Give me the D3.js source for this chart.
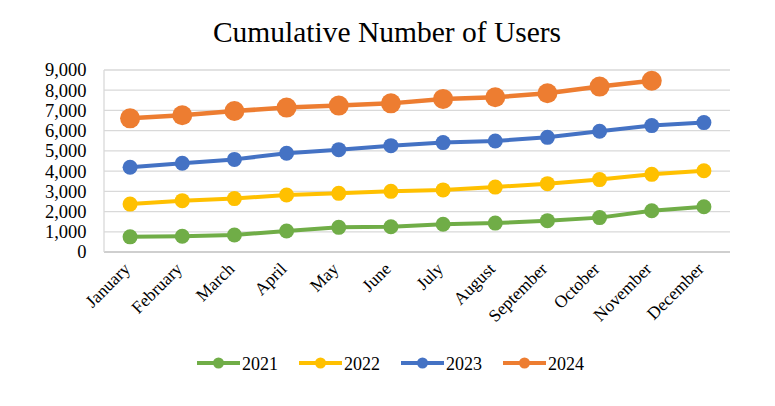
<!DOCTYPE html>
<html lang="en">
<head>
<meta charset="utf-8">
<title>Cumulative Number of Users</title>
<script src="https://cdn.jsdelivr.net/npm/d3@7"></script>
<style>
    body { margin: 0; background: #fff; }
</style>
</head>
<body>
<script>
var months = ["January", "February", "March", "April", "May", "June", "July",
              "August", "September", "October", "November", "December"];
var years = ["2021", "2022", "2023", "2024"];
var users2021 = [750, 780, 840, 1040, 1220, 1250, 1370, 1430, 1550, 1700, 2040, 2240];
var users2022 = [2370, 2540, 2640, 2820, 2900, 3000, 3070, 3210, 3380, 3580, 3840, 4020];
var users2023 = [4190, 4390, 4580, 4880, 5060, 5260, 5410, 5490, 5670, 5970, 6250, 6400];
var users2024 = [6610, 6760, 6970, 7140, 7240, 7350, 7570, 7650, 7850, 8180, 8470, null];
var yTicks = [0, 1000, 2000, 3000, 4000, 5000, 6000, 7000, 8000, 9000];

var w = 775, h = 406;
var serif = "Liberation Serif";
var colors = ["#70AD47", "#FFC000", "#4472C4", "#ED7D31"];
var radius = [7.5, 7.5, 7.5, 10];
var allSeries = [users2021, users2022, users2023, users2024];

var svg = d3.select("body").append("svg").attr("width", w).attr("height", h)
            .attr("font-family", serif);

var x = d3.scaleBand().domain(months).range([104, 730]);
var y = d3.scaleLinear().domain([0, 9000]).range([252, 70]);

// title
svg.append("text").attr("x", 387).attr("y", 42).attr("text-anchor", "middle")
   .attr("font-family", serif).attr("font-size", 29.5)
   .text("Cumulative Number of Users");

// gridlines
svg.append("g").selectAll("line").data(yTicks).enter().append("line")
   .attr("x1", 104).attr("x2", 730)
   .attr("y1", function (d) { return y(d); }).attr("y2", function (d) { return y(d); })
   .attr("stroke", function (d) { return d === 0 ? "#bfbfbf" : "#d9d9d9"; })
   .attr("stroke-width", 1.3);
svg.append("line").attr("x1", 104).attr("x2", 104).attr("y1", y(9000)).attr("y2", y(0))
   .attr("stroke", "#d9d9d9").attr("stroke-width", 1.3);

// y axis labels
var yaxis = d3.axisLeft(y).tickValues(yTicks).tickSize(0).tickPadding(0)
              .tickFormat(d3.format(","));
var gy = svg.append("g").attr("transform", "translate(86.5,0)").call(yaxis)
            .attr("font-family", serif).attr("font-size", 18.5);
gy.select(".domain").remove();
gy.selectAll("text").attr("fill", "#000");

// x axis labels
svg.append("g").selectAll("text").data(months).enter().append("text")
   .attr("text-anchor", "end")
   .attr("font-family", serif).attr("font-size", 17.5)
   .attr("transform", function (d) {
       return "translate(" + (x(d) + x.bandwidth() / 2 + 1) + ",270) rotate(-45)";
   })
   .text(function (d) { return d; });

// series
var line = d3.line()
   .defined(function (d) { return d !== null; })
   .x(function (d, i) { return x(months[i]) + x.bandwidth() / 2; })
   .y(function (d) { return y(d); });

allSeries.forEach(function (series, k) {
    var g = svg.append("g");
    g.append("path").datum(series).attr("d", line)
     .attr("fill", "none").attr("stroke", colors[k]).attr("stroke-width", k === 3 ? 4.5 : 4)
     .attr("stroke-linejoin", "round");
    g.selectAll("circle").data(series.map(function (v, i) { return [i, v]; })
                                     .filter(function (d) { return d[1] !== null; }))
     .enter().append("circle")
     .attr("cx", function (d) { return x(months[d[0]]) + x.bandwidth() / 2; })
     .attr("cy", function (d) { return y(d[1]); })
     .attr("r", radius[k]).attr("fill", colors[k]);
});

// legend
var legend = svg.append("g").selectAll("g").data(years).enter().append("g")
   .attr("transform", function (d, i) { return "translate(" + (197 + i * 102) + ",363)"; });
legend.append("line").attr("x1", 0).attr("x2", 43).attr("y1", 0).attr("y2", 0)
   .attr("stroke", function (d, i) { return colors[i]; }).attr("stroke-width", 4);
legend.append("circle").attr("cx", 21.5).attr("cy", 0).attr("r", 5.5)
   .attr("fill", function (d, i) { return colors[i]; });
legend.append("text").attr("x", 45).attr("y", 6.5)
   .attr("font-family", serif).attr("font-size", 18)
   .text(function (d) { return d; });
</script>
</body>
</html>
